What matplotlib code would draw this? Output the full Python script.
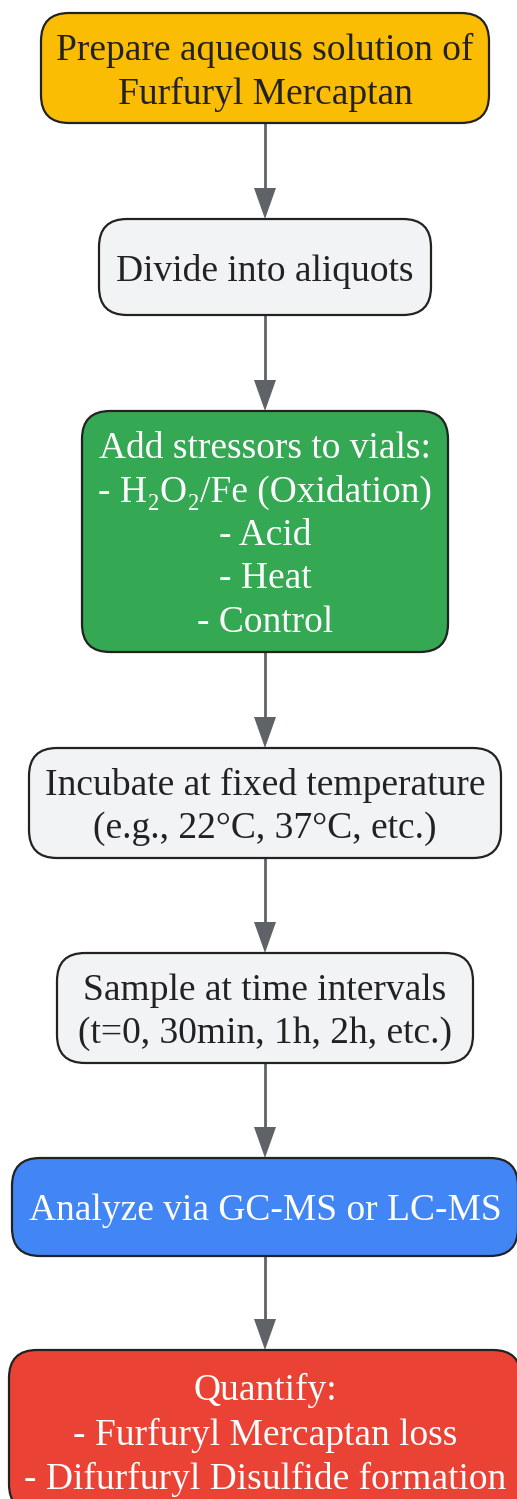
import matplotlib
matplotlib.use("Agg")
from matplotlib import pyplot as plt
from matplotlib.patches import FancyBboxPatch, Polygon

# flowchart content
steps = [
    "Prepare aqueous solution of\nFurfuryl Mercaptan",
    "Divide into aliquots",
    "Add stressors to vials:\n- H\u2082O\u2082/Fe (Oxidation)\n- Acid\n- Heat\n- Control",
    "Incubate at fixed temperature\n(e.g., 22\u00b0C, 37\u00b0C, etc.)",
    "Sample at time intervals\n(t=0, 30min, 1h, 2h, etc.)",
    "Analyze via GC-MS or LC-MS",
    "Quantify:\n- Furfuryl Mercaptan loss\n- Difurfuryl Disulfide formation",
]
fills = ["#FBBC04", "#F1F3F4", "#34A853", "#F1F3F4", "#F1F3F4", "#4285F4", "#EA4335"]
text_cols = ["#222222", "#222222", "white", "#222222", "#222222", "white", "white"]

# layout (pixels, y down)
W, H = 517, 1499
lefts = [41, 99, 82, 29, 57, 12, 9]
rights = [489, 431, 448, 501, 473, 518, 521]
tops = [13, 219, 411, 748, 953, 1158, 1350]
bottoms = [123, 315, 652, 858, 1063, 1256, 1512]
CX = 265

fig = plt.figure(figsize=(W / 100, H / 100), dpi=100)
ax = fig.add_axes([0, 0, 1, 1])
ax.set_xlim(0, W); ax.set_ylim(H, 0); ax.axis("off")

for i, (lab, fc, tc) in enumerate(zip(steps, fills, text_cols)):
    l, r, t, b = lefts[i], rights[i], tops[i], bottoms[i]
    ax.add_patch(FancyBboxPatch((l, t), r - l, b - t, boxstyle="round,pad=0,rounding_size=28",
                                fc=fc, ec="#222222", lw=1.6, zorder=2))
    ax.text((l + r) / 2, (t + b) / 2 + 4, lab, ha="center", va="center", color=tc,
            fontsize=27, family=["Liberation Serif", "DejaVu Serif"], linespacing=1.33, zorder=3)

# arrows between consecutive steps
for i in range(len(steps) - 1):
    y0, y1 = bottoms[i], tops[i + 1]
    ax.plot([CX, CX], [y0, y1 - 28], color="#5f6368", lw=2, zorder=1, solid_capstyle="butt")
    ax.add_patch(Polygon([[CX - 11, y1 - 31], [CX + 11, y1 - 31], [CX, y1]], closed=True,
                         fc="#5f6368", ec="none", zorder=1))

plt.savefig("out.png", dpi=100, facecolor="white")
